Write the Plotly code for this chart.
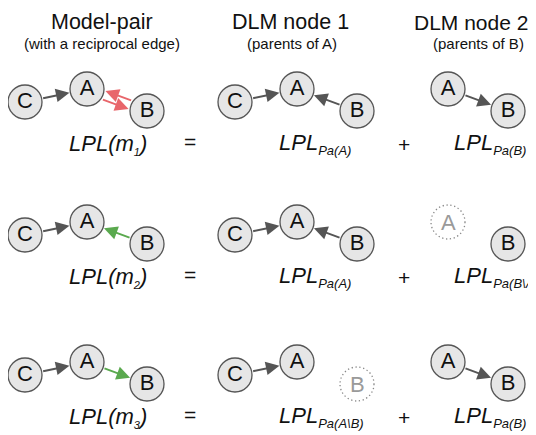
import numpy as np
import plotly.graph_objects as go

# column headers
headers = ["Model-pair", "DLM node 1", "DLM node 2"]
subheaders = ["(with a reciprocal edge)", "(parents of A)", "(parents of B)"]

# graph content, one entry per row, each row = [model-pair, DLM node 1, DLM node 2]
solid_nodes = [
    [["C", "A", "B"], ["C", "A", "B"], ["A", "B"]],
    [["C", "A", "B"], ["C", "A", "B"], ["B"]],
    [["C", "A", "B"], ["C", "A"], ["A", "B"]],
]
ghost_nodes = [
    [[], [], []],
    [[], [], ["A"]],
    [[], ["B"], []],
]
# edges as (tail, head, colour key)
edges = [
    [[("C", "A", "k"), ("A", "B", "r"), ("B", "A", "r")], [("C", "A", "k"), ("B", "A", "k")], [("A", "B", "k")]],
    [[("C", "A", "k"), ("B", "A", "g")], [("C", "A", "k"), ("B", "A", "k")], []],
    [[("C", "A", "k"), ("A", "B", "g")], [("C", "A", "k")], [("A", "B", "k")]],
]
model_subs = ["1", "2", "3"]
node1_subs = ["Pa(A)", "Pa(A)", "Pa(A\\B)"]
node2_subs = ["Pa(B)", "Pa(B\\A)", "Pa(B)"]

# layout (page pixel space; the page body has an 8px margin)
W, H = 536, 435
PAD = 8
R = 17
node_offset = {"C": (25, 13), "A": (87, 0), "B": (147, 22)}
panel_x = [0, 210, 361]
row_y = [89, 222, 362]
header_x = [102, 290, 471]
header_size = [21.5, 21.5, 21]
subheader_x = [102, 292, 478]
lpl_x = [67, 277, 452]
colors = {"k": "#555555", "r": "#e8666b", "g": "#5aa94e"}
FONT = "Arial, Liberation Sans, sans-serif"
INK = "#111111"


def pos(row, panel, name):
    dx, dy = node_offset[name]
    return panel_x[panel] + dx, row_y[row] + dy


fig = go.Figure()
shapes = []
annotations = []

sx, sy, st = [], [], []
for r in range(3):
    for p in range(3):
        for name in solid_nodes[r][p]:
            x, y = pos(r, p, name)
            sx.append(x)
            sy.append(y)
            st.append(name)
        for name in ghost_nodes[r][p]:
            x, y = pos(r, p, name)
            shapes.append(dict(type="circle", xref="x", yref="y",
                               x0=x - R, x1=x + R, y0=y - R, y1=y + R,
                               line=dict(color="#888888", width=1.3, dash="1.3px,2.6px")))
            annotations.append(dict(x=x, y=y, text=name, showarrow=False,
                                    font=dict(family=FONT, size=22, color="#9a9a9a")))
        for tail, head, c in edges[r][p]:
            x0, y0 = pos(r, p, tail)
            x1, y1 = pos(r, p, head)
            d = np.array([x1 - x0, y1 - y0], dtype=float)
            d /= np.hypot(*d)
            off = np.array([0.0, 0.0])
            if (head, tail, c) in edges[r][p]:
                off = np.array([-d[1], d[0]]) * 4.5
            annotations.append(dict(
                x=x1 + off[0], y=y1 + off[1], ax=x0 + off[0], ay=y0 + off[1],
                xref="x", yref="y", axref="x", ayref="y", text="",
                showarrow=True, arrowhead=2, arrowsize=1.35, arrowwidth=2,
                arrowcolor=colors[c], standoff=R + 1, startstandoff=R))

fig.add_trace(go.Scatter(
    x=sx, y=sy, text=st, mode="markers+text", textposition="middle center",
    marker=dict(size=2 * R, color="#e6e6e6", line=dict(color="#555555", width=1.3)),
    textfont=dict(family=FONT, size=22, color=INK),
    hoverinfo="skip", showlegend=False))

for i in range(3):
    annotations.append(dict(x=header_x[i], y=22, text=headers[i], showarrow=False,
                            font=dict(family=FONT, size=header_size[i], color=INK)))
    annotations.append(dict(x=subheader_x[i], y=43, text=subheaders[i], showarrow=False,
                            font=dict(family=FONT, size=15, color=INK)))

sub = '<sub><span style="font-size:%dpx">%s</span></sub>'
for r in range(3):
    yb = row_y[r] + 55
    annotations.append(dict(x=lpl_x[0], y=yb, xanchor="left",
                            text="<i>LPL(m%s)</i>" % (sub % (11, model_subs[r])),
                            showarrow=False, font=dict(family=FONT, size=22, color=INK)))
    annotations.append(dict(x=lpl_x[1], y=yb, xanchor="left",
                            text="<i>LPL%s</i>" % (sub % (13, node1_subs[r])),
                            showarrow=False, font=dict(family=FONT, size=22, color=INK)))
    annotations.append(dict(x=lpl_x[2], y=yb, xanchor="left",
                            text="<i>LPL%s</i>" % (sub % (13, node2_subs[r])),
                            showarrow=False, font=dict(family=FONT, size=22, color=INK)))
    annotations.append(dict(x=190, y=row_y[r] + 52, text="=", showarrow=False,
                            font=dict(family=FONT, size=21, color=INK)))
    annotations.append(dict(x=404, y=row_y[r] + 55, text="+", showarrow=False,
                            font=dict(family=FONT, size=21, color=INK)))

fig.update_layout(
    width=W - PAD, height=H - PAD, margin=dict(l=0, r=0, t=0, b=0),
    paper_bgcolor="white", plot_bgcolor="white",
    xaxis=dict(range=[PAD, W], visible=False, fixedrange=True),
    yaxis=dict(range=[H, PAD], visible=False, fixedrange=True),
    shapes=shapes, annotations=annotations, showlegend=False,
)

fig.write_html("out.html")
